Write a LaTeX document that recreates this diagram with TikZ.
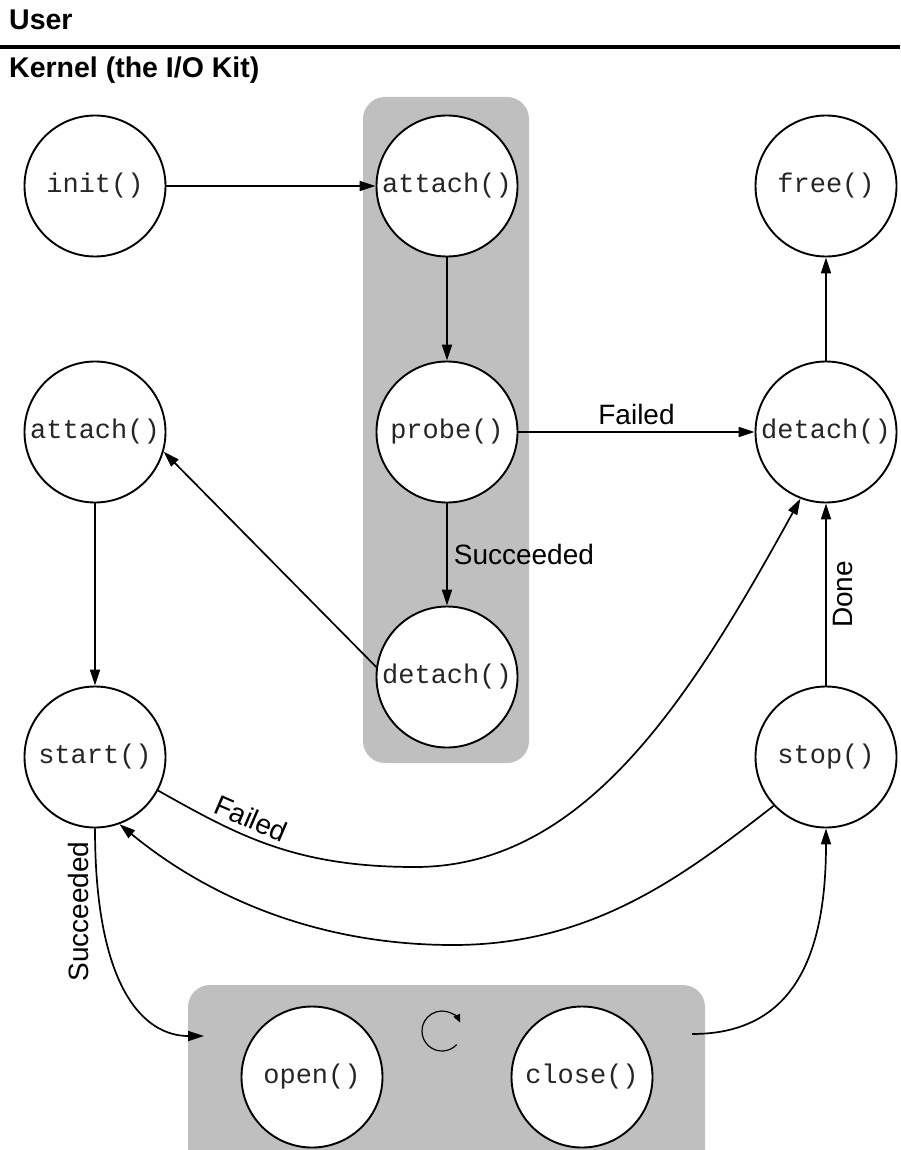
\documentclass[tikz,border=0pt]{standalone}
\usepackage{fontspec}
\setmainfont{Liberation Sans}
\setmonofont{Liberation Mono}
\usetikzlibrary{arrows.meta}

\newcommand{\callfont}{\fontsize{27}{32}\selectfont\ttfamily}
\newcommand{\tagfont}{\fontsize{28}{33}\selectfont}
\newcommand{\headfont}{\fontsize{28.5}{33}\selectfont\bfseries}

\begin{document}
\begin{tikzpicture}[x=1pt, y=-1pt,
    state/.style={circle, draw, line width=1.9pt, fill=white, minimum size=141pt, inner sep=0pt, font=\callfont, text=black!85},
    panel/.style={fill=gray!50, rounded corners=22pt},
    flow/.style={-{Triangle[length=16pt,width=10pt]}, line width=1.7pt},
    tag/.style={font=\tagfont, inner sep=6pt}]
  \useasboundingbox (0,0) rectangle (900,1150);

  % user space / kernel split
  \node[font=\headfont, anchor=base west, inner sep=0pt] (user) at (9,30) {User};
  \draw[line width=4pt] (0,47.5) -- (900,47.5);
  \node[font=\headfont, anchor=base west, inner sep=0pt] (kernel) at (9,78) {Kernel (the I/O Kit)};

  % shaded groups
  \fill[panel] (363,97) rectangle (529,763);
  \begin{scope}
    \clip (0,0) rectangle (900,1150);
    \fill[panel] (188,985) rectangle (705,1190);
  \end{scope}

  % states
  \node[state] (init) at (95,186) {init()};
  \node[state] (attachtop) at (447,186) {attach()};
  \node[state] (free) at (826,186) {free()};
  \node[state] (attachleft) at (95,432) {attach()};
  \node[state] (probe) at (447,432) {probe()};
  \node[state] (detachright) at (826,432) {detach()};
  \node[state] (detachmid) at (447,677) {detach()};
  \node[state] (start) at (95,757) {start()};
  \node[state] (stop) at (826,757) {stop()};
  \node[state] (open) at (312,1077) {open()};
  \node[state] (close) at (582,1077) {close()};

  % open/close loop marker
  \coordinate (spin) at (442,1031);
  \draw[line width=1.2pt, -{Triangle[length=8pt,width=7pt]}] ([shift={(43:20)}]spin) arc[start angle=43, end angle=335, radius=20];

  \coordinate (loopin) at (204,1036);
  \coordinate (loopout) at (692,1034);
  \coordinate (faildip) at (415,867);
  \coordinate (backdip) at (453,945);

  % transitions
  \draw[flow] (init) -- (attachtop);
  \draw[flow] (attachtop) -- (probe);
  \draw[flow] (probe) -- node[tag, above] {Failed} (detachright);
  \draw[flow] (probe) -- node[tag, right] {Succeeded} (detachmid);
  \draw[flow] (detachmid.172) -- (attachleft.-16);
  \draw[flow] (attachleft) -- (start);
  \draw[flow] (detachright) -- (free);
  \draw[flow] (stop) -- node[tag, rotate=90, anchor=north] {Done} (detachright);
  \draw[flow] (start.-28) .. controls +(80,45) and +(-120,0) .. (faildip)
    node[tag, pos=0.38, sloped, above, inner sep=7pt] {Failed}
    .. controls +(170,0) and +(-110,200) .. (detachright.-111);
  \draw[flow] (stop.-137) .. controls +(-90,70) and +(140,0) .. (backdip)
    .. controls +(-140,0) and +(85,70) .. (start.-70);
  \draw[flow] (start.south) .. controls +(0,160) and +(-60,0) .. (loopin)
    node[tag, pos=0.2, rotate=90, anchor=south, inner sep=11pt] {Succeeded};
  \draw[flow] (loopout) .. controls +(100,0) and +(0,130) .. (stop.south);
\end{tikzpicture}
\end{document}
